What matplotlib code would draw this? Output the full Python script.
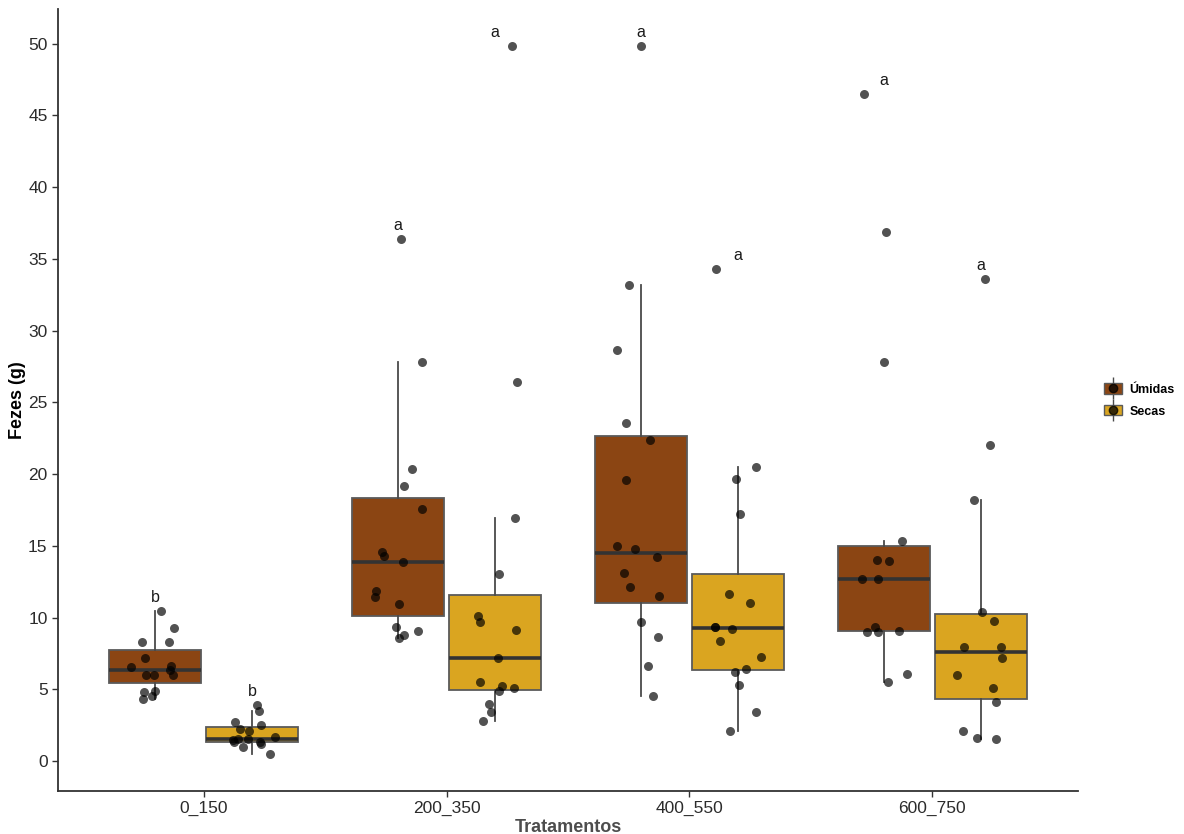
import numpy as np
import matplotlib
matplotlib.use("Agg")
import matplotlib.pyplot as plt
from matplotlib.patches import Patch
from matplotlib.lines import Line2D
from matplotlib.legend_handler import HandlerTuple

plt.rcParams['font.family'] = ['Liberation Sans', 'DejaVu Sans']

# Tratamentos e grupos
tratamentos = ["0_150", "200_350", "400_550", "600_750"]
grupos = ["Úmidas", "Secas"]
cores = {"Úmidas": "#8B4513", "Secas": "#DAA520"}

# Fezes (g) por tratamento
umidas = [
    [10.47, 9.27, 8.31, 8.31, 7.17, 6.0, 6.59, 6.66, 6.35, 6.0, 6.0, 4.84, 4.33, 4.54, 4.91],
    [36.38, 27.84, 20.37, 19.18, 17.55, 14.32, 14.59, 13.85, 11.85, 11.43, 10.94, 9.34, 9.10, 8.78, 8.57],
    [49.84, 33.17, 28.63, 23.58, 22.35, 19.6, 14.78, 14.97, 14.20, 13.13, 12.17, 11.48, 9.69, 8.64, 6.63, 4.56],
    [46.46, 36.85, 27.84, 15.34, 14.0, 13.95, 12.69, 12.73, 9.38, 9.03, 9.08, 8.99, 6.05, 5.54],
]
secas = [
    [3.91, 3.51, 2.51, 2.70, 2.09, 2.22, 1.54, 1.51, 1.70, 1.52, 1.19, 1.00, 0.47, 1.37, 1.33],
    [49.84, 26.42, 16.95, 13.04, 10.13, 9.73, 9.13, 7.21, 5.54, 5.07, 5.24, 4.91, 4.0, 3.44, 2.79],
    [34.29, 20.48, 19.67, 17.25, 11.64, 11.01, 9.34, 9.22, 9.38, 8.36, 7.24, 6.40, 6.19, 5.29, 3.40, 2.12],
    [33.59, 22.0, 18.23, 10.38, 9.78, 7.94, 7.94, 7.21, 5.98, 5.10, 4.10, 2.09, 1.63, 1.58],
]

# Letras do teste de comparacao
letras_umidas = ["b", "a", "a", "a"]
letras_secas = ["b", "a", "a", "a"]

fig = plt.figure(figsize=(11.84, 8.34), dpi=100)
ax = fig.add_axes([0.049, 0.052, 0.8615, 0.937])

rng = np.random.default_rng(7)
dodge = 0.2
largura = 0.38
x = np.arange(len(tratamentos))

for g, dados, letras in [("Úmidas", umidas, letras_umidas), ("Secas", secas, letras_secas)]:
    desloc = -dodge if g == "Úmidas" else dodge
    pos = x + desloc
    ax.boxplot(dados, positions=pos, widths=largura, patch_artist=True,
               showfliers=False, whis=1.5,
               boxprops=dict(facecolor=cores[g], edgecolor="#5a5a5a", linewidth=1.3),
               medianprops=dict(color="#333333", linewidth=2.6),
               whiskerprops=dict(color="#4a4a4a", linewidth=1.3),
               capprops=dict(linewidth=0), zorder=2)
    # pontos com jitter
    for p, vals, letra in zip(pos, dados, letras):
        vals = np.array(vals)
        jit = rng.uniform(-0.1, 0.1, len(vals))
        ax.scatter(p + jit, vals, s=42, color="black", alpha=0.68,
                   linewidths=0, zorder=3)
        ax.text(p, vals.max() + 0.95, letra, ha="center", va="center",
                fontsize=11.5, color="#1a1a1a")

ax.set_xlim(-0.6, 3.6)
ax.set_ylim(-2.05, 52.4)
ax.set_xticks(x)
ax.set_xticklabels(tratamentos)
ax.set_yticks(np.arange(0, 51, 5))
ax.tick_params(axis="both", labelsize=12.5, colors="#333333", length=4, width=1)
ax.tick_params(axis="both", labelcolor="#2b2b2b")
for lado in ["top", "right"]:
    ax.spines[lado].set_visible(False)
for lado in ["left", "bottom"]:
    ax.spines[lado].set_color("#333333")
    ax.spines[lado].set_linewidth(1.3)

ax.set_xlabel("Tratamentos", fontsize=13, fontweight="bold", color="#4d4d4d", labelpad=2)
ax.set_ylabel("Fezes (g)", fontsize=13, fontweight="bold", color="black")
ax.yaxis.set_label_coords(-0.031, 0.5)

# legenda com caixa, bigode e ponto
handles = []
for g in grupos:
    caixa = Patch(facecolor=cores[g], edgecolor="#5a5a5a", linewidth=1.0)
    traco = Line2D([], [], marker="|", markersize=16, color="#4a4a4a",
                   linestyle="none", markeredgewidth=1.0)
    ponto = Line2D([], [], marker="o", markersize=6, color="black", alpha=0.75,
                   linestyle="none")
    handles.append((traco, caixa, ponto))
fig.legend(handles, grupos, loc="center left", bbox_to_anchor=(0.923, 0.52),
           frameon=False, handler_map={tuple: HandlerTuple(ndivide=1, pad=0)},
           handlelength=1.45, handleheight=0.9, labelspacing=0.75,
           handletextpad=0.6, prop=dict(size=9, weight="bold"))

fig.savefig("out.png", dpi=100)
